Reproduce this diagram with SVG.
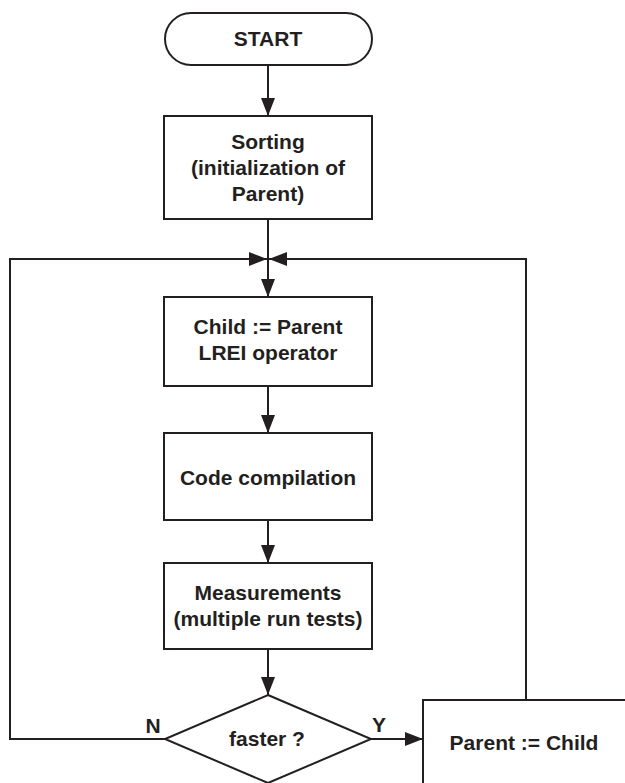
<svg xmlns="http://www.w3.org/2000/svg" width="625" height="783" viewBox="0 0 625 783">
<style>
.box{fill:#fff;stroke:#231f20;stroke-width:2}
.ln{fill:none;stroke:#231f20;stroke-width:2}
.t{font-family:"Liberation Sans",Arial,Helvetica,sans-serif;font-weight:bold;font-size:21px;fill:#231f20;text-anchor:middle}
</style>
<defs>
<marker id="ah" markerUnits="userSpaceOnUse" markerWidth="19" markerHeight="14" refX="18" refY="7" orient="auto">
<path d="M0,0 L18,7 L0,14 z" fill="#231f20"/>
</marker>
</defs>
<rect width="625" height="783" fill="#fff"/>
<g id="connectors">
<line class="ln" x1="268" y1="65" x2="268" y2="116" marker-end="url(#ah)"/>
<line class="ln" x1="268" y1="219" x2="268" y2="297" marker-end="url(#ah)"/>
<line class="ln" x1="268" y1="386" x2="268" y2="433" marker-end="url(#ah)"/>
<line class="ln" x1="268" y1="520" x2="268" y2="563" marker-end="url(#ah)"/>
<line class="ln" x1="268" y1="649" x2="268" y2="695" marker-end="url(#ah)"/>
<polyline class="ln" points="165,739 10,739 10,259 267,259" marker-end="url(#ah)"/>
<polyline class="ln" points="526,700 526,259 269,259" marker-end="url(#ah)"/>
<line class="ln" x1="371" y1="739" x2="423" y2="739" marker-end="url(#ah)"/>
</g>
<g id="start">
<rect class="box" x="165" y="13" width="207" height="52" rx="26" ry="26"/>
<text class="t" x="268" y="46">START</text>
</g>
<g id="sorting">
<rect class="box" x="164" y="116" width="208" height="103"/>
<text class="t" x="268" y="149">Sorting</text>
<text class="t" x="268" y="175">(initialization of</text>
<text class="t" x="268" y="201">Parent)</text>
</g>
<g id="child">
<rect class="box" x="164" y="297" width="208" height="89"/>
<text class="t" x="268" y="334">Child := Parent</text>
<text class="t" x="268" y="360">LREI operator</text>
</g>
<g id="compile">
<rect class="box" x="164" y="433" width="208" height="87"/>
<text class="t" x="268" y="485">Code compilation</text>
</g>
<g id="measure">
<rect class="box" x="164" y="563" width="208" height="86"/>
<text class="t" x="268" y="600">Measurements</text>
<text class="t" x="268" y="626">(multiple run tests)</text>
</g>
<g id="decision">
<polygon class="box" points="268,695 371,739 268,783 165,739"/>
<text class="t" x="267" y="746">faster ?</text>
<text class="t" x="153" y="733">N</text>
<text class="t" x="379" y="732">Y</text>
</g>
<g id="update">
<rect class="box" x="423" y="700" width="220" height="120"/>
<text class="t" x="524" y="750">Parent := Child</text>
</g>
</svg>
